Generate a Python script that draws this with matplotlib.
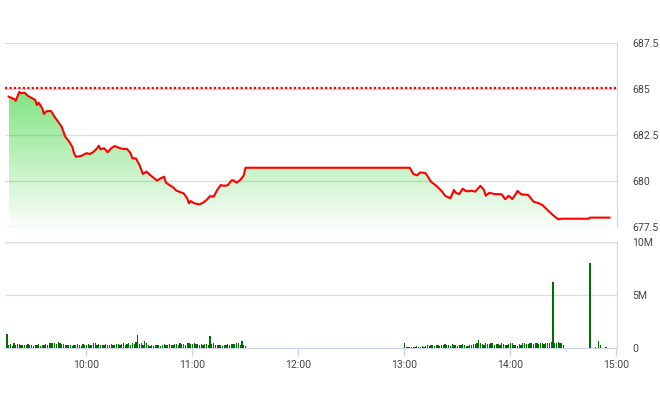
import matplotlib
matplotlib.use("Agg")
import matplotlib.pyplot as plt
import numpy as np
from matplotlib.colors import to_rgb
from matplotlib.patches import PathPatch

plt.rcParams['font.family'] = ['Roboto', 'DejaVu Sans']

# intraday index price
price_times = ["9:16", "9:19", "9:20", "9:22", "9:23", "9:25", "9:27", "9:30", "9:31", "9:32",
               "9:33", "9:35", "9:36", "9:37", "9:38", "9:40", "9:42", "9:44", "9:46", "9:48",
               "9:50", "9:52", "9:53", "9:54", "9:57", "10:00", "10:02", "10:04", "10:06", "10:07",
               "10:08", "10:10", "10:11", "10:12", "10:14", "10:16", "10:19", "10:21", "10:23", "10:25",
               "10:26", "10:28", "10:30", "10:32", "10:34", "10:36", "10:40", "10:42", "10:44", "10:45",
               "10:47", "10:49", "10:51", "10:55", "10:57", "10:58", "10:59", "11:01", "11:04", "11:06",
               "11:08", "11:10", "11:12", "11:14", "11:16", "11:18", "11:20", "11:22", "11:23", "11:25",
               "11:27", "11:29", "11:30",
               "13:03", "13:05", "13:07", "13:09", "13:12", "13:13", "13:15", "13:18", "13:21", "13:23",
               "13:26", "13:28", "13:29", "13:31", "13:33", "13:35", "13:38", "13:40", "13:43", "13:45",
               "13:46", "13:48", "13:51", "13:55", "13:57", "13:59", "14:01", "14:02", "14:04", "14:06",
               "14:10", "14:13", "14:16", "14:18", "14:21", "14:24", "14:27", "14:29", "14:30", "14:44",
               "14:45", "14:56"]
price_values = [684.58, 684.46, 684.36, 684.84, 684.77, 684.80, 684.62, 684.46, 684.40, 684.13,
                684.26, 683.95, 683.64, 683.77, 683.80, 683.80, 683.49, 683.22, 682.95, 682.41,
                682.17, 681.86, 681.51, 681.32, 681.36, 681.51, 681.47, 681.58, 681.78, 681.92,
                681.72, 681.78, 681.68, 681.56, 681.78, 681.90, 681.78, 681.74, 681.74, 681.51,
                681.23, 681.23, 680.87, 680.38, 680.51, 680.33, 680.02, 680.15, 680.23, 679.91,
                679.78, 679.66, 679.47, 679.33, 679.06, 678.79, 678.91, 678.79, 678.73, 678.82,
                678.97, 679.18, 679.15, 679.51, 679.78, 679.74, 679.77, 680.02, 680.05, 679.91,
                680.05, 680.29, 680.72,
                680.72, 680.38, 680.31, 680.47, 680.42, 680.27, 679.96, 679.74, 679.46, 679.20,
                679.06, 679.51, 679.36, 679.29, 679.58, 679.44, 679.47, 679.42, 679.74, 679.51,
                679.20, 679.36, 679.29, 679.28, 679.01, 679.20, 679.02, 679.15, 679.46, 679.28,
                679.24, 678.88, 678.79, 678.70, 678.42, 678.15, 677.92, 677.95, 677.95, 677.95,
                678.01, 678.01]
ref_price = 685.08

# volume per minute (millions)
vol_am_start = "9:15"
vol_am = [1.35,
          0.25, 0.4, 0.2, 0.45, 0.3, 0.4, 0.35, 0.3, 0.3, 0.25, 0.3, 0.35, 0.25, 0.3, 0.2,
          0.3, 0.25, 0.35, 0.2, 0.3, 0.25, 0.4, 0.3, 0.45, 0.5, 0.45, 0.5, 0.35, 0.55, 0.5,
          0.4, 0.35, 0.3, 0.3, 0.25, 0.3, 0.2, 0.3, 0.25, 0.35, 0.3, 0.2, 0.35, 0.25, 0.3,
          0.4, 0.3, 0.25, 0.5, 0.45, 0.3, 0.35, 0.3, 0.3, 0.25, 0.35, 0.3, 0.3, 0.35, 0.25,
          0.3, 0.4, 0.35, 0.3, 0.35, 0.45, 0.3, 0.4, 0.5, 0.3, 0.45, 0.4, 0.55, 1.2, 0.35,
          0.5, 0.3, 0.65, 0.5, 0.3, 0.2, 0.25, 0.2, 0.3, 0.25, 0.3, 0.2, 0.3, 0.35, 0.25,
          0.3, 0.35, 0.25, 0.3, 0.35, 0.4, 0.3, 0.45, 0.35, 0.4, 0.3, 0.45, 0.5, 0.35, 0.4,
          0.45, 0.4, 0.35, 0.3, 0.4, 0.3, 0.35, 0.4, 0.3, 1.15, 0.35, 0.45, 0.3, 0.25, 0.3,
          0.3, 0.2, 0.25, 0.3, 0.35, 0.3, 0.4, 0.35, 0.4, 0.5, 0.45, 0.3, 0.65, 0.3, 0.15]
vol_pm_start = "13:00"
vol_pm = [0.47,
          0.1, 0.08, 0.1, 0.12, 0.08, 0.1, 0.15, 0.1, 0.12, 0.2, 0.1, 0.15, 0.25, 0.2,
          0.3, 0.25, 0.2, 0.25, 0.3, 0.2, 0.25, 0.3, 0.35, 0.25, 0.3, 0.2, 0.35, 0.3, 0.25,
          0.2, 0.3, 0.25, 0.35, 0.3, 0.2, 0.15, 0.25, 0.3, 0.35, 0.4, 0.5, 0.72, 0.45, 0.35,
          0.3, 0.45, 0.4, 0.35, 0.5, 0.45, 0.3, 0.4, 0.35, 0.3, 0.45, 0.35, 0.25, 0.3, 0.35,
          0.5, 0.45, 0.3, 0.25, 0.2, 0.35, 0.3, 0.45, 0.5, 0.4, 0.35, 0.5, 0.45, 0.4, 0.5,
          0.45, 0.4, 0.5, 0.45, 0.4, 0.5, 0.45, 0.5, 0.55, 6.25, 0.45, 0.5, 0.6, 0.45, 0.5,
          0.25]
vol_atc_times = ["14:45", "14:48", "14:50", "14:51", "14:54"]
vol_atc = [8.05, 0.1, 0.63, 0.3, 0.08]

price_ticks = [677.5, 680, 682.5, 685, 687.5]
price_labels = ["677.5", "680", "682.5", "685", "687.5"]
vol_ticks = [0, 5, 10]
vol_labels = ["0", "5M", "10M"]
hour_ticks = [10, 11, 12, 13, 14, 15]
hour_labels = ["10:00", "11:00", "12:00", "13:00", "14:00", "15:00"]


def to_hours(s):
    h, m = s.split(":")
    return int(h) + int(m) / 60


grid_c = '#dedede'
axis_c = '#ccd6eb'
text_c = '#444444'
xlim = (9.232, 15.0)

fig = plt.figure(figsize=(6.6, 4.12), dpi=100)
ax = fig.add_axes([5 / 660, 1 - 227 / 412, 611.5 / 660, 184 / 412])
axv = fig.add_axes([5 / 660, 1 - 348 / 412, 611.5 / 660, 106 / 412])

# price panel
x = np.array([to_hours(t) for t in price_times])
y = np.array(price_values)
poly = ax.fill_between(x, y, 677.5, color='none', lw=0)
patch = PathPatch(poly.get_paths()[0], transform=ax.transData, fc='none', ec='none')
ax.add_patch(patch)
grad = np.zeros((256, 1, 4))
grad[..., :3] = to_rgb('#00c800')
grad[..., 3] = np.linspace(0.02, 0.5, 256).reshape(-1, 1)
im = ax.imshow(grad, extent=[x.min(), x.max(), 677.5, y.max()], origin='lower',
               aspect='auto', zorder=1, interpolation='bilinear')
im.set_clip_path(patch)
ax.plot(x, y, color='#ff0000', lw=1.5, zorder=3)
ax.axhline(ref_price, color='#ff0000', lw=1.6, ls=(0, (1, 1)), zorder=3)

ax.set_xlim(*xlim)
ax.set_ylim(677.5, 687.5)
ax.set_yticks(price_ticks)
ax.set_yticklabels(price_labels)
ax.yaxis.tick_right()
ax.tick_params(axis='y', length=0, pad=11.5, labelsize=7.6, labelcolor=text_c)
ax.set_xticks([])
ax.grid(axis='y', color=grid_c, lw=1)
ax.set_axisbelow(True)
for s in ['top', 'left', 'bottom']:
    ax.spines[s].set_visible(False)
ax.spines['right'].set_color(axis_c)

# volume panel
am_x = to_hours(vol_am_start) + np.arange(len(vol_am)) / 60
pm_x = to_hours(vol_pm_start) + np.arange(len(vol_pm)) / 60
atc_x = np.array([to_hours(t) for t in vol_atc_times])
bw = 0.7 / 60
for bx, bv in [(am_x, vol_am), (pm_x, vol_pm), (atc_x, vol_atc)]:
    axv.bar(bx, bv, width=bw, color='#006e00', lw=0, zorder=3)

axv.set_xlim(*xlim)
axv.set_ylim(0, 10)
axv.set_yticks(vol_ticks)
axv.set_yticklabels(vol_labels)
axv.yaxis.tick_right()
axv.tick_params(axis='y', length=0, pad=11.5, labelsize=7.6, labelcolor=text_c)
axv.set_xticks(hour_ticks)
axv.set_xticklabels(hour_labels)
axv.tick_params(axis='x', length=6, width=1, color=axis_c, pad=2.5,
                labelsize=7.6, labelcolor=text_c)
axv.grid(axis='y', color=grid_c, lw=1)
axv.set_axisbelow(True)
for s in ['top', 'left']:
    axv.spines[s].set_visible(False)
axv.spines['right'].set_color(axis_c)
axv.spines['bottom'].set_color(axis_c)

fig.savefig("out.png", dpi=100, facecolor='white')
